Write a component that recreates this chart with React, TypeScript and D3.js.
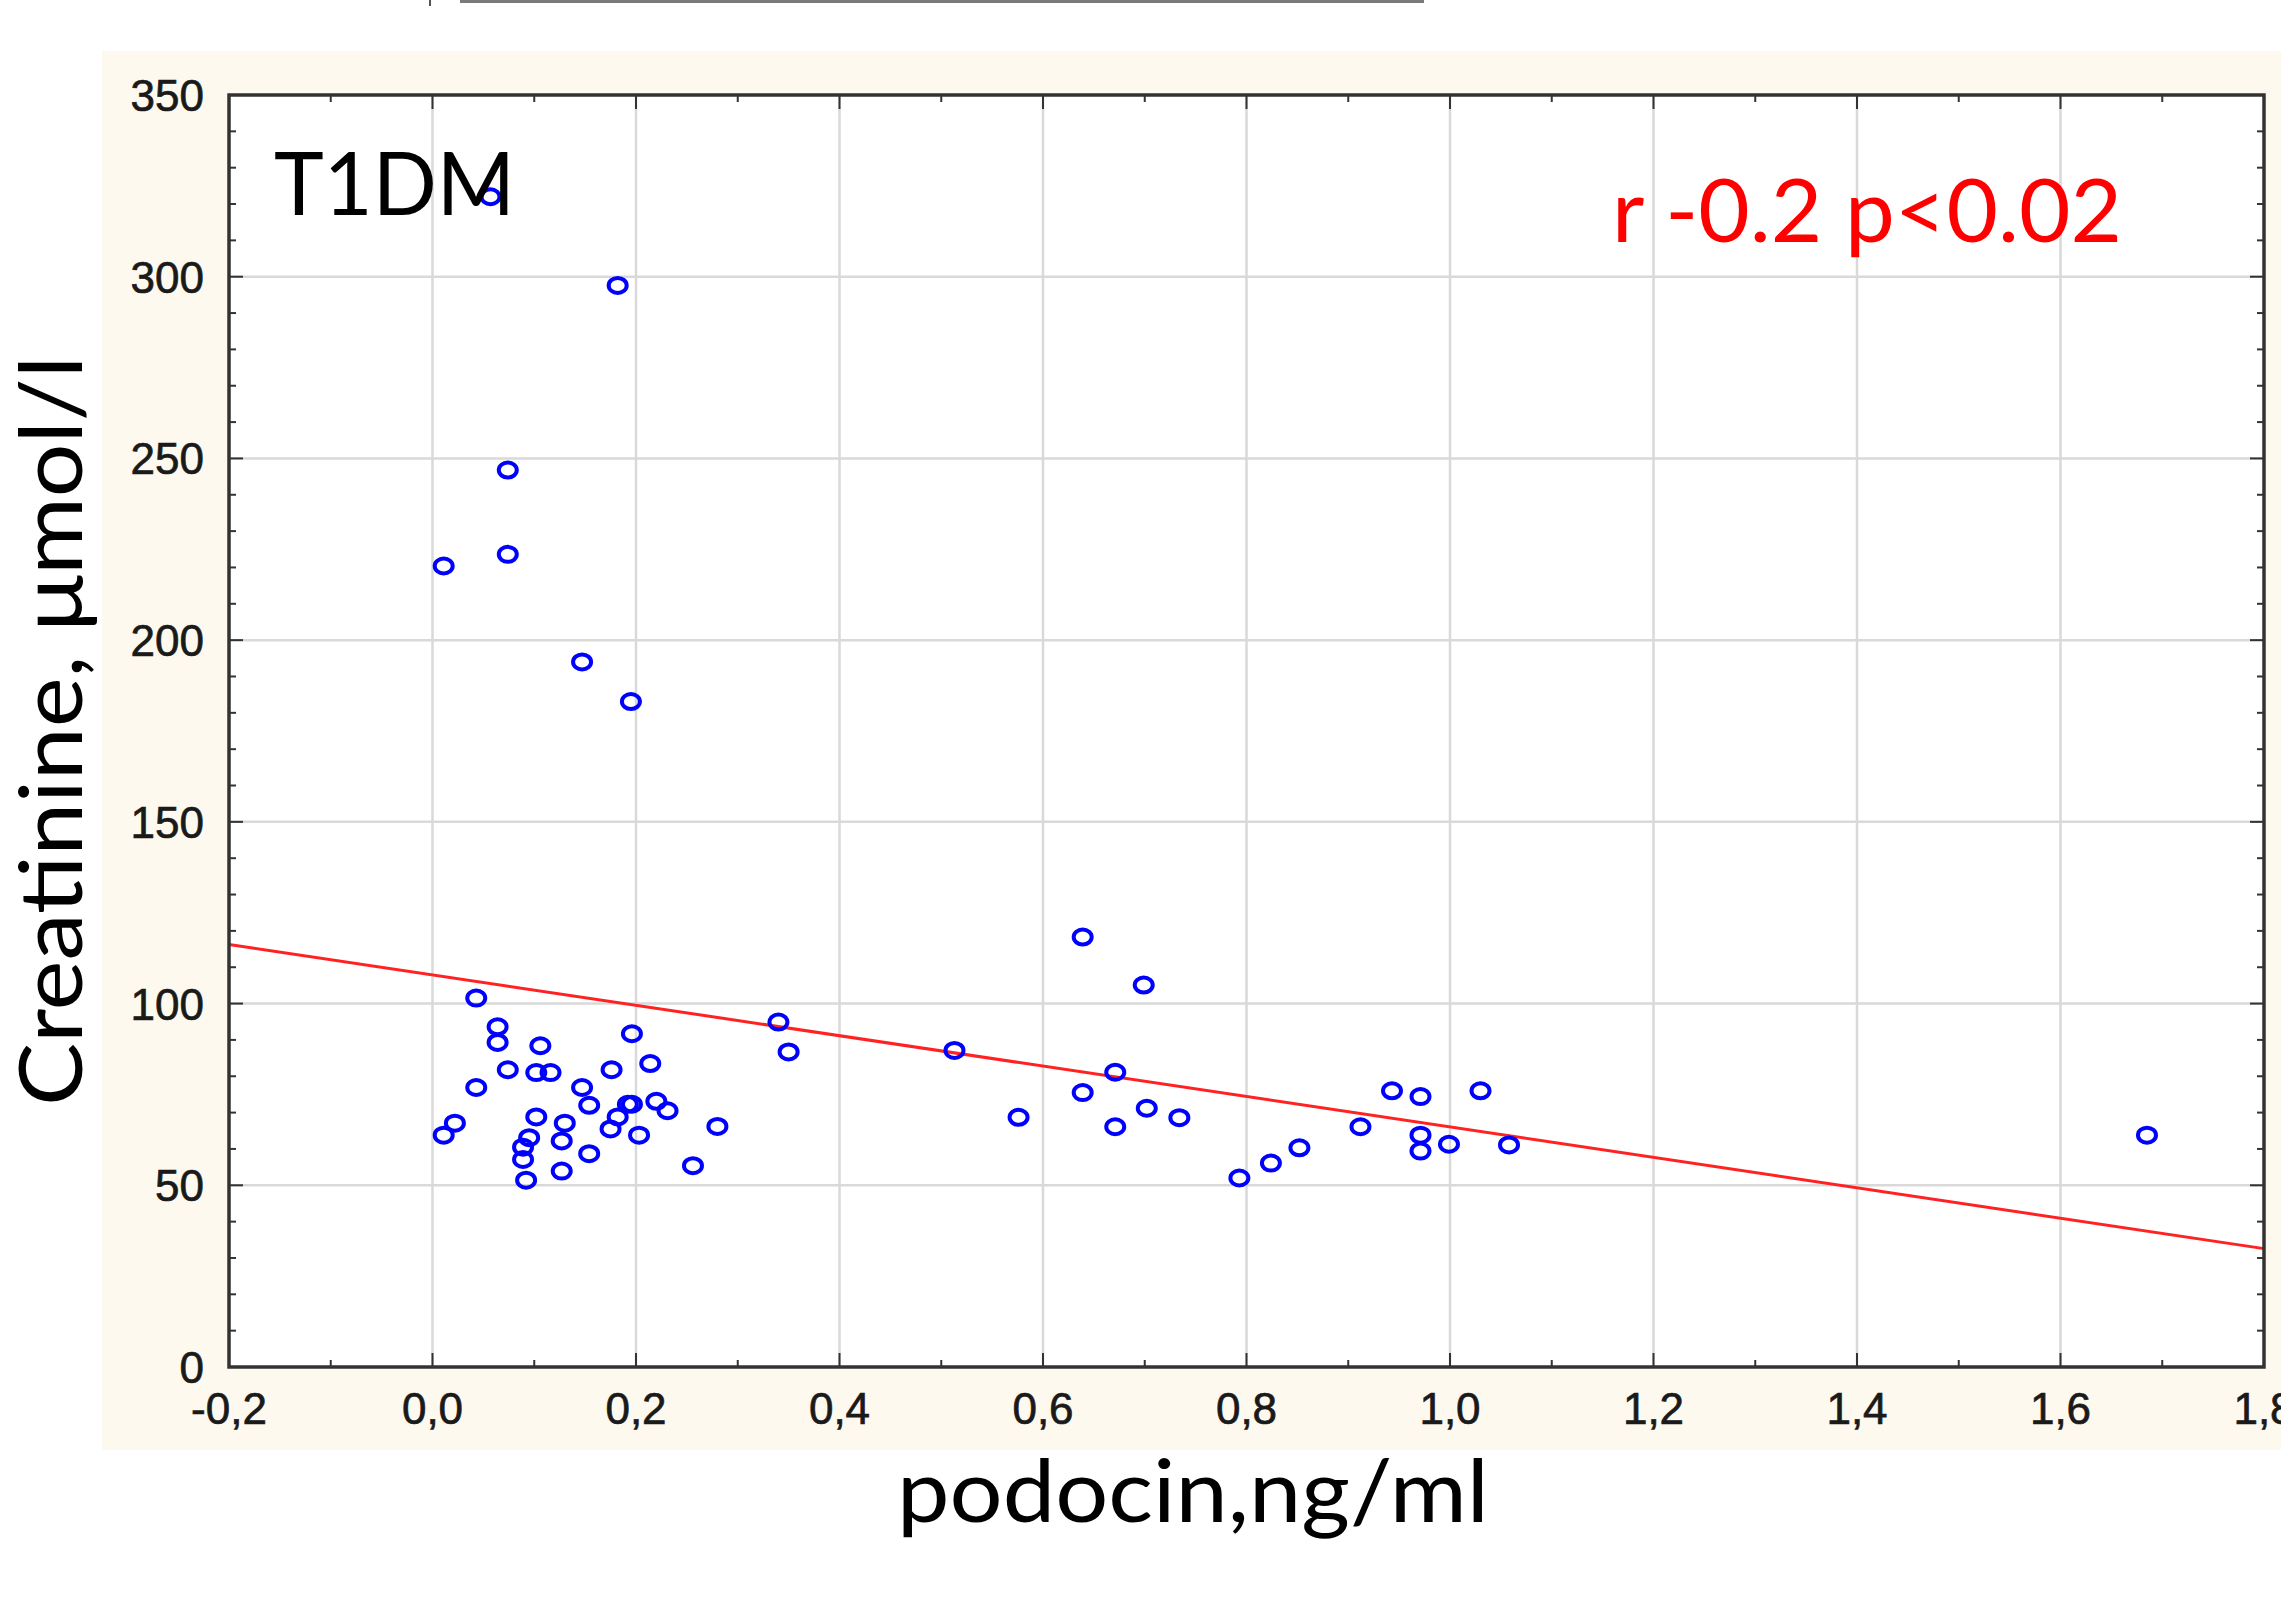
import React from "react";
import * as d3 from "d3";

// values
const podocin = [
  0.057, 0.182, 0.074, 0.011, 0.074, 0.147, 0.195,
  0.043, 0.064, 0.064, 0.106, 0.196, 0.074, 0.102, 0.116, 0.176, 0.214,
  0.043, 0.147, 0.154, 0.192, 0.196, 0.22, 0.231, 0.182, 0.102, 0.13,
  0.022, 0.011, 0.175, 0.203, 0.28, 0.095, 0.127, 0.089, 0.089, 0.154,
  0.127, 0.092, 0.256, 0.34, 0.35,
  0.513, 0.576, 0.639, 0.639, 0.699,
  0.671, 0.671, 0.702, 0.734, 0.793, 0.824, 0.852, 0.912, 0.943, 0.971,
  0.971, 0.971, 0.999, 1.03, 1.058,
  1.685,
];
const creatinine = [
  322, 297.6, 246.8, 220.4, 223.6, 194, 183.1,
  101.5, 93.6, 89.3, 88.4, 91.7, 81.8, 81.0, 81.0, 81.8, 83.5,
  76.9, 76.9, 72.0, 72.3, 72.3, 73.1, 70.5, 68.8, 68.8, 67.1,
  67.1, 63.8, 65.5, 63.8, 66.2, 63.1, 62.2, 60.5, 57.1, 58.7,
  53.9, 51.4, 55.4, 94.9, 86.7,
  87.1, 68.7, 118.3, 75.5, 105.1,
  81.1, 66.1, 71.2, 68.6, 52.0, 56.1, 60.3, 66.1, 76.0, 74.4,
  63.8, 59.4, 61.3, 76.0, 61.1,
  63.8,
];

const xTicks = [-0.2, 0, 0.2, 0.4, 0.6, 0.8, 1.0, 1.2, 1.4, 1.6, 1.8];
const xTickLabels = ["-0,2", "0,0", "0,2", "0,4", "0,6", "0,8", "1,0", "1,2", "1,4", "1,6", "1,8"];
const yTicks = [0, 50, 100, 150, 200, 250, 300, 350];
const yTickLabels = ["0", "50", "100", "150", "200", "250", "300", "350"];

// linear fit shown in red
const fitIntercept = 107.9;
const fitSlope = -41.85;

const W = 2281;
const H = 1605;
const plot = { left: 229, right: 2264, top: 95, bottom: 1367 };
const calibri = "Lato, 'Open Sans', sans-serif";

export default function App() {
  const x = d3.scaleLinear().domain([-0.2, 1.8]).range([plot.left, plot.right]);
  const y = d3.scaleLinear().domain([0, 350]).range([plot.bottom, plot.top]);

  const xMinor = x.ticks(20);
  const yMinor = y.ticks(35);

  const fitLine = d3
    .line<number>()
    .x((d) => x(d))
    .y((d) => y(fitIntercept + fitSlope * d));

  const points = podocin.map((p, i) => [p, creatinine[i]]);

  return (
    <svg
      width={W}
      height={H}
      style={{ position: "absolute", left: 0, top: 0, background: "#fff" }}
    >
      {/* cut-off line at the very top */}
      <line x1={460} x2={1424} y1={1.5} y2={1.5} stroke="#7a7a7a" strokeWidth={3} />
      <line x1={430} x2={430} y1={0} y2={6} stroke="#555" strokeWidth={2} />

      <rect x={102} y={51} width={W - 102} height={1399} fill="#fef9ef" />
      <rect
        x={plot.left}
        y={plot.top}
        width={plot.right - plot.left}
        height={plot.bottom - plot.top}
        fill="#fff"
      />

      {/* grid */}
      {xTicks.slice(1, -1).map((t) => (
        <line key={"gx" + t} x1={x(t)} x2={x(t)} y1={plot.top} y2={plot.bottom} stroke="#d9d9d9" strokeWidth={2.5} />
      ))}
      {yTicks.slice(1, -1).map((t) => (
        <line key={"gy" + t} x1={plot.left} x2={plot.right} y1={y(t)} y2={y(t)} stroke="#d9d9d9" strokeWidth={2.5} />
      ))}

      {/* regression line */}
      <path d={fitLine(x.domain()) || ""} fill="none" stroke="#ff2222" strokeWidth={3} />

      {/* points */}
      {points.map(([p, c], i) => (
        <ellipse key={i} cx={x(p)} cy={y(c)} rx={9} ry={7.5} fill="none" stroke="#0000ff" strokeWidth={4} />
      ))}

      {/* ticks on all four sides, pointing inward */}
      <g stroke="#333" strokeWidth={2}>
        {xMinor.map((t) => {
          const len = xTicks.some((m) => Math.abs(m - t) < 1e-6) ? 14 : 7;
          return (
            <g key={"tx" + t}>
              <line x1={x(t)} x2={x(t)} y1={plot.bottom} y2={plot.bottom - len} />
              <line x1={x(t)} x2={x(t)} y1={plot.top} y2={plot.top + len} />
            </g>
          );
        })}
        {yMinor.map((t) => {
          const len = t % 50 === 0 ? 14 : 7;
          return (
            <g key={"ty" + t}>
              <line x1={plot.left} x2={plot.left + len} y1={y(t)} y2={y(t)} />
              <line x1={plot.right} x2={plot.right - len} y1={y(t)} y2={y(t)} />
            </g>
          );
        })}
      </g>

      {/* frame */}
      <rect
        x={plot.left}
        y={plot.top}
        width={plot.right - plot.left}
        height={plot.bottom - plot.top}
        fill="none"
        stroke="#333"
        strokeWidth={3.5}
      />

      {/* tick labels */}
      <g
        fontFamily="'Liberation Sans', Arial, sans-serif"
        fontSize={44}
        fill="#1a1a1a"
        stroke="#1a1a1a"
        strokeWidth={0.7}
      >
        {xTicks.map((t, i) => (
          <text key={"lx" + t} x={x(t)} y={1424} textAnchor="middle">
            {xTickLabels[i]}
          </text>
        ))}
        {yTicks.map((t, i) => (
          <text key={"ly" + t} x={204} y={y(t) + 16} textAnchor="end">
            {yTickLabels[i]}
          </text>
        ))}
      </g>

      {/* annotations */}
      <text x={274} y={215} fontFamily={calibri} fontSize={88} fill="#000" textLength={241} lengthAdjust="spacingAndGlyphs">
        T1DM
      </text>
      <text x={1612} y={242} fontFamily={calibri} fontSize={88} fill="#ff0000" textLength={510} lengthAdjust="spacingAndGlyphs">
        r -0.2 p&lt;0.02
      </text>

      {/* axis titles */}
      <text
        transform="translate(82,731) rotate(-90)"
        textAnchor="middle"
        fontFamily={calibri}
        fontSize={88}
        fill="#000"
        textLength={750}
        lengthAdjust="spacingAndGlyphs"
      >
        Creatinine, μmol/l
      </text>
      <text
        x={1193}
        y={1522}
        textAnchor="middle"
        fontFamily={calibri}
        fontSize={88}
        fill="#000"
        textLength={592}
        lengthAdjust="spacingAndGlyphs"
      >
        podocin,ng/ml
      </text>
    </svg>
  );
}
